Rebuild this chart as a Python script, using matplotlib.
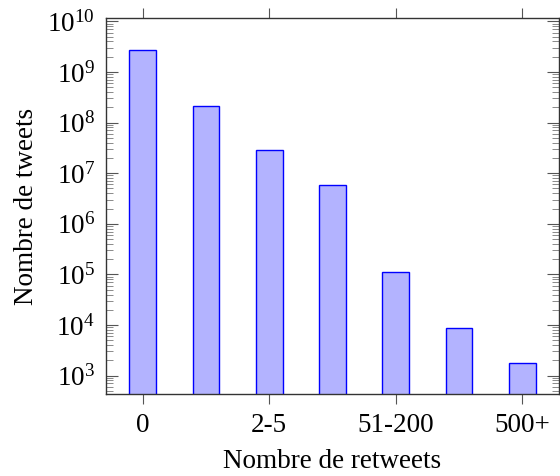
import numpy as np
import matplotlib
matplotlib.use('Agg')
import matplotlib.pyplot as plt
from matplotlib.ticker import LogLocator, NullFormatter

# donnees (nombre de tweets par classe de retweets)
tweets = [2.77e9, 2.1e8, 2.86e7, 5.8e6, 1.1e5, 8.6e3, 1.78e3]
tick_pos = [0, 2, 4, 6]
tick_labels = ['0', '2-5', '51-200', '500+']

plt.rcParams['font.family'] = ['Liberation Serif', 'DejaVu Serif']
plt.rcParams['mathtext.fontset'] = 'custom'
plt.rcParams['mathtext.rm'] = 'Liberation Serif'
plt.rcParams['mathtext.it'] = 'Liberation Serif:italic'
plt.rcParams['font.size'] = 19.5

fig = plt.figure(figsize=(5.6, 4.76), dpi=100)
ax = fig.add_axes([106 / 560, 1 - 394.3 / 476, 453 / 560, 376 / 476])

x = np.arange(len(tweets))
ax.bar(x, tweets, width=0.42, color='#b3b3ff', edgecolor='blue', linewidth=1.0)

ax.set_yscale('log')
ax.set_ylim(10 ** 2.63, 10 ** 10.06)
ax.set_xlim(-0.58, 6.58)

ax.yaxis.set_minor_locator(LogLocator(base=10, subs=np.arange(2, 10), numticks=20))
ax.yaxis.set_minor_formatter(NullFormatter())
ax.set_yticks([10 ** k for k in range(3, 11)])
ax.set_yticklabels([r'$10^{%d}$' % k for k in range(3, 11)])

ax.set_xticks(tick_pos)
ax.set_xticklabels(tick_labels)

ax.tick_params(axis='y', which='major', direction='in', left=True, right=True,
               length=8.5, width=0.8, color='#555555', pad=8)
ax.tick_params(axis='y', which='minor', direction='in', left=True, right=True,
               length=5, width=0.6, color='#777777')
ax.tick_params(axis='x', which='major', direction='out', top=True, bottom=True,
               length=7.5, width=0.8, color='#555555', pad=6)
ax.tick_params(axis='x', which='minor', bottom=False, top=False)

for s in ax.spines.values():
    s.set_linewidth(1.0)
    s.set_color('#333333')

ax.set_xlabel('Nombre de retweets', labelpad=8)
ax.set_ylabel('Nombre de tweets', labelpad=6)

fig.savefig('out.png', dpi=100)
